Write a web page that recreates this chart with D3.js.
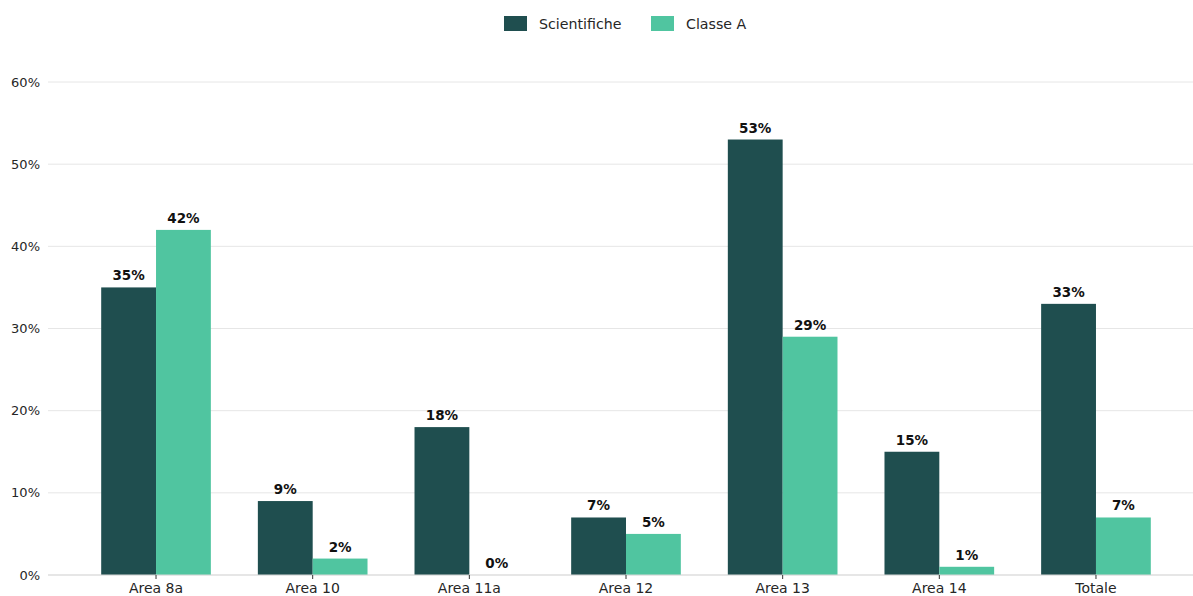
<!DOCTYPE html>
<html>
<head>
<meta charset="utf-8">
<script src="https://cdn.jsdelivr.net/npm/d3@7"></script>
<style>
  body { margin: 0; background: #fff; }
  svg { font-family: "DejaVu Sans", sans-serif; }
</style>
</head>
<body>
<div id="chart"></div>
<script>
var categories = ["Area 8a", "Area 10", "Area 11a", "Area 12", "Area 13", "Area 14", "Totale"];
var seriesNames = ["Scientifiche", "Classe A"];
var scientifiche = [35, 9, 18, 7, 53, 15, 33];
var classeA = [42, 2, 0, 5, 29, 1, 7];
var yTicks = [0, 10, 20, 30, 40, 50, 60];
var colors = ["#1f4e4f", "#50c5a0"];

var width = 1193, height = 596;
var plotLeft = 48, plotRight = 1193;
var yTop = 82, yBottom = 575;

var svg = d3.select("#chart").append("svg")
    .attr("width", width)
    .attr("height", height);

var x = d3.scaleBand()
    .domain(categories)
    .range([77.7, 1174.3])
    .paddingInner(0.3)
    .paddingOuter(0.15);

var xSub = d3.scaleBand()
    .domain(seriesNames)
    .range([0, x.bandwidth()]);

var y = d3.scaleLinear()
    .domain([0, 60])
    .range([yBottom, yTop]);

// gridlines
svg.append("g")
    .selectAll("line")
    .data(yTicks)
    .join("line")
    .attr("x1", plotLeft)
    .attr("x2", plotRight)
    .attr("y1", function(d) { return y(d); })
    .attr("y2", function(d) { return y(d); })
    .attr("stroke", "#e6e6e6")
    .attr("stroke-width", 1);

// y tick labels
svg.append("g")
    .selectAll("text")
    .data(yTicks)
    .join("text")
    .attr("x", 40)
    .attr("y", function(d) { return y(d); })
    .attr("dy", "0.35em")
    .attr("text-anchor", "end")
    .attr("font-size", 13)
    .attr("fill", "#262626")
    .text(function(d) { return d + "%"; });

// bars
var data = [];
for (var i = 0; i < categories.length; i++) {
    data.push({cat: categories[i], series: seriesNames[0], value: scientifiche[i], color: colors[0]});
    data.push({cat: categories[i], series: seriesNames[1], value: classeA[i], color: colors[1]});
}

var bars = svg.append("g");
bars.selectAll("rect")
    .data(data)
    .join("rect")
    .attr("x", function(d) { return x(d.cat) + xSub(d.series); })
    .attr("y", function(d) { return y(d.value); })
    .attr("width", xSub.bandwidth())
    .attr("height", function(d) { return y(0) - y(d.value); })
    .attr("fill", function(d) { return d.color; });

bars.selectAll("text")
    .data(data)
    .join("text")
    .attr("x", function(d) { return x(d.cat) + xSub(d.series) + xSub.bandwidth() / 2; })
    .attr("y", function(d) { return y(d.value) - 7; })
    .attr("text-anchor", "middle")
    .attr("font-size", 13.5)
    .attr("font-weight", "bold")
    .attr("fill", "#111")
    .text(function(d) { return d.value + "%"; });

// x axis
svg.append("line")
    .attr("x1", plotLeft)
    .attr("x2", plotRight)
    .attr("y1", yBottom)
    .attr("y2", yBottom)
    .attr("stroke", "#d9d9d9")
    .attr("stroke-width", 1);

var xAxis = svg.append("g")
    .attr("transform", "translate(0," + yBottom + ")")
    .call(d3.axisBottom(x).tickSize(4).tickSizeOuter(0));
xAxis.select(".domain").remove();
xAxis.selectAll(".tick line").attr("stroke", "#333");
xAxis.selectAll(".tick text")
    .attr("font-family", "DejaVu Sans, sans-serif")
    .attr("font-size", 14)
    .attr("fill", "#262626")
    .attr("y", 8);

// legend
var legend = svg.append("g");
var legendX = [504, 651];
seriesNames.forEach(function(name, i) {
    legend.append("rect")
        .attr("x", legendX[i])
        .attr("y", 16)
        .attr("width", 23)
        .attr("height", 15)
        .attr("fill", colors[i]);
    legend.append("text")
        .attr("x", legendX[i] + 35)
        .attr("y", 24)
        .attr("dy", "0.35em")
        .attr("font-size", 14.2)
        .attr("fill", "#262626")
        .text(name);
});
</script>
</body>
</html>
